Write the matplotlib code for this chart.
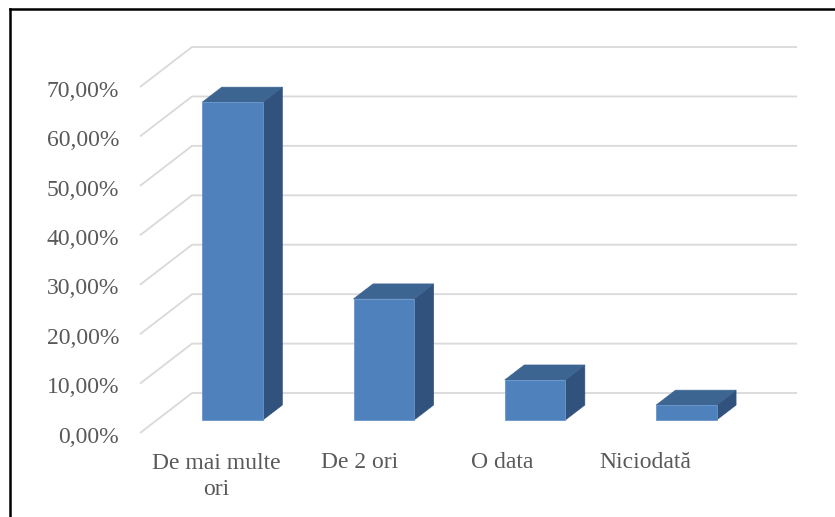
import matplotlib
matplotlib.use("Agg")
import matplotlib.pyplot as plt
from matplotlib.patches import Polygon
from matplotlib.lines import Line2D

# data
categories = ["De mai multe\nori", "De 2 ori", "O data", "Niciodată"]
values = [64.3, 24.5, 8.1, 3.0]
ticks = [0, 10, 20, 30, 40, 50, 60, 70]

# fake 3d: depth offset (full depth) in data units
DX = 0.344
DY = 8.09
BAR_W = 0.40
Z0, Z1 = 0.325, 0.70

FRONT = "#4f81bd"
TOP = "#3d6592"
SIDE = "#31527c"
GRID = "#d9d9d9"
TEXT = "#595959"


def proj(u, v, z):
    return (u + z * DX, v + z * DY)


def main():
    plt.rcParams["font.family"] = ["Liberation Serif", "DejaVu Serif"]

    fig = plt.figure(figsize=(8.35, 5.17), dpi=100)
    ax = fig.add_axes([0, 0, 1, 1])
    ax.set_xlim(-0.9256, 4.595)
    ax.set_ylim(-16.99, 87.6)
    ax.axis("off")

    n = len(categories)

    # gridlines: diagonal on the side + horizontal on the back wall
    for t in ticks:
        x0, y0 = proj(0, t, 0)
        x1, y1 = proj(0, t, 1)
        x2, y2 = proj(n, t, 1)
        ax.plot([x0, x1, x2], [y0, y1, y2], color=GRID, lw=1.3,
                solid_capstyle="butt", zorder=1)
        label = f"{t:.2f}".replace(".", ",") + "%"
        ax.text(-0.139, t - 1.96, label, ha="right", va="baseline",
                fontsize=17, color=TEXT)

    # bars
    for i, h in enumerate(values):
        l = i + 0.5 - BAR_W / 2
        r = i + 0.5 + BAR_W / 2
        front = [proj(l, 0, Z0), proj(r, 0, Z0), proj(r, h, Z0), proj(l, h, Z0)]
        top = [proj(l, h, Z0), proj(r, h, Z0), proj(r, h, Z1), proj(l, h, Z1)]
        side = [proj(r, 0, Z0), proj(r, 0, Z1), proj(r, h, Z1), proj(r, h, Z0)]
        ax.add_patch(Polygon(side, closed=True, facecolor=SIDE,
                             edgecolor=SIDE, lw=0.5, zorder=3))
        ax.add_patch(Polygon(top, closed=True, facecolor=TOP,
                             edgecolor=TOP, lw=0.5, zorder=3))
        ax.add_patch(Polygon(front, closed=True, facecolor=FRONT,
                             edgecolor="#6a96cc", lw=0.6, zorder=4))

    # category labels (baseline of the first line sits at the same height)
    label_step = 0.947
    line_step = 5.4
    for i, c in enumerate(categories):
        extra = c.count("\n") * line_step
        ax.text(0.502 + i * label_step, -7.08 - extra, c, ha="center",
                va="baseline", fontsize=17, color=TEXT, linespacing=1.3)

    # outer frame (left + top only visible)
    fig.add_artist(Line2D([10 / 835, 10 / 835], [0, 1 - 9 / 517],
                          transform=fig.transFigure, color="black", lw=1.8))
    fig.add_artist(Line2D([10 / 835, 1], [1 - 9 / 517, 1 - 9 / 517],
                          transform=fig.transFigure, color="black", lw=1.8))

    fig.savefig("out.png", dpi=100)


if __name__ == "__main__":
    main()
